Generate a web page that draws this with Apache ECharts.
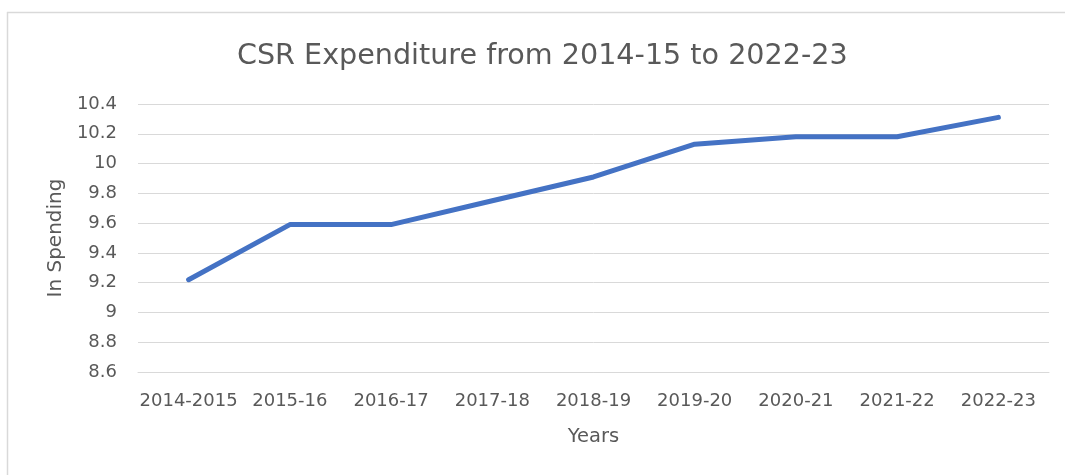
<!DOCTYPE html>
<html>
<head>
<meta charset="utf-8">
<title>CSR Expenditure from 2014-15 to 2022-23</title>
<script src="https://cdn.jsdelivr.net/npm/echarts@6/dist/echarts.min.js"></script>
<style>
  html, body { margin: 0; padding: 0; background: #ffffff; }
  #chart { width: 1065px; height: 475px; }
</style>
</head>
<body>
<div id="chart"></div>
<script>
// Financial years on the category axis
const years = ['2014-2015', '2015-16', '2016-17', '2017-18', '2018-19', '2019-20', '2020-21', '2021-22', '2022-23'];
// CSR spending per year (log scale values)
const spending = [9.22, 9.59, 9.59, 9.75, 9.91, 10.13, 10.18, 10.18, 10.31];
// Value axis range
const yMin = 8.6;
const yMax = 10.4;
const yStep = 0.2;

const textGray = '#595959';
const gridGray = '#d9d9d9';
const font = 'DejaVu Sans';

const chart = echarts.init(document.getElementById('chart'), null, { renderer: 'canvas' });

chart.setOption({
  backgroundColor: '#ffffff',
  animation: false,
  title: {
    text: 'CSR Expenditure from 2014-15 to 2022-23',
    left: 232,
    top: 37,
    textStyle: { color: textGray, fontFamily: font, fontSize: 28.6, fontWeight: 'normal' }
  },
  grid: { left: 138, right: 16, top: 104, bottom: 103, containLabel: false },
  xAxis: {
    type: 'category',
    data: years,
    boundaryGap: true,
    name: 'Years',
    nameLocation: 'middle',
    nameGap: 55,
    nameTextStyle: { color: textGray, fontFamily: font, fontSize: 19.5 },
    axisLine: { show: true, lineStyle: { color: gridGray, width: 1 } },
    axisTick: { show: false },
    axisLabel: { color: textGray, fontFamily: font, fontSize: 18, margin: 20, interval: 0 },
    splitLine: { show: false }
  },
  yAxis: {
    type: 'value',
    min: yMin,
    max: yMax,
    interval: yStep,
    name: 'In Spending',
    nameLocation: 'middle',
    nameGap: 72,
    nameTextStyle: { color: textGray, fontFamily: font, fontSize: 20 },
    axisLine: { show: false },
    axisTick: { show: false },
    axisLabel: {
      color: textGray, fontFamily: font, fontSize: 18, margin: 21,
      formatter: v => String(parseFloat(v.toFixed(1)))
    },
    splitLine: { show: true, lineStyle: { color: gridGray, width: 1 } }
  },
  series: [{
    type: 'line',
    data: spending,
    symbol: 'none',
    lineStyle: { color: '#4472C4', width: 5, cap: 'round', join: 'round' },
    itemStyle: { color: '#4472C4' }
  }],
  graphic: [
    // chart area frame (top and left edges)
    { type: 'line', shape: { x1: 7, y1: 12.5, x2: 1065, y2: 12.5 }, style: { stroke: gridGray, lineWidth: 1.5 }, silent: true },
    { type: 'line', shape: { x1: 7.5, y1: 12, x2: 7.5, y2: 475 }, style: { stroke: gridGray, lineWidth: 1.5 }, silent: true }
  ]
});
</script>
</body>
</html>
